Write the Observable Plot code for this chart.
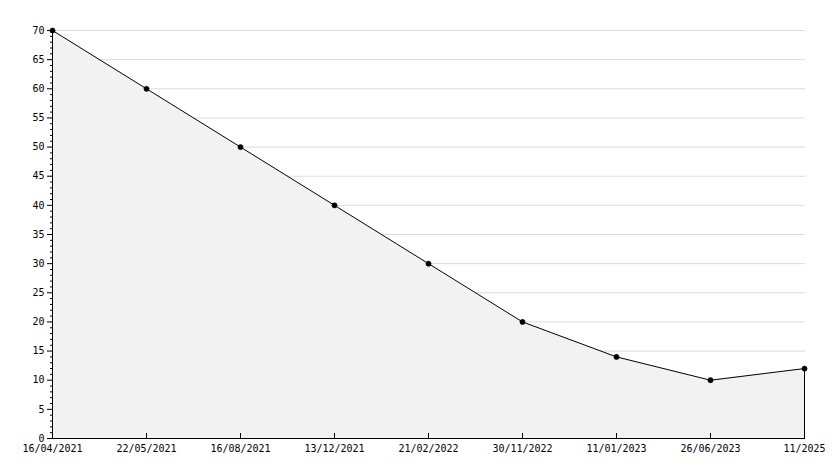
<!DOCTYPE html>
<html>
<head>
<meta charset="utf-8">
<script src="https://cdn.jsdelivr.net/npm/d3@7"></script>
<script src="https://cdn.jsdelivr.net/npm/@observablehq/plot@0.6"></script>
<style>
  html, body { margin: 0; padding: 0; background: #ffffff; }
</style>
</head>
<body>
<div id="chart"></div>
<script>
const dates = ["16/04/2021", "22/05/2021", "16/08/2021", "13/12/2021", "21/02/2022", "30/11/2022", "11/01/2023", "26/06/2023", "11/2025"];
const values = [70, 60, 50, 40, 30, 20, 14, 10, 12];
const yTickLabels = [0, 5, 10, 15, 20, 25, 30, 35, 40, 45, 50, 55, 60, 65, 70];
const yMinorTicks = d3.range(0, 71, 1);
const gridLines = [5, 10, 15, 20, 25, 30, 35, 40, 45, 50, 55, 60, 65, 70];

const data = dates.map((d, i) => ({date: d, value: values[i]}));

const chart = Plot.plot({
  width: 834,
  height: 468,
  marginLeft: 50,
  marginRight: 29,
  marginTop: 30,
  marginBottom: 30,
  style: {fontFamily: "'DejaVu Sans Mono', monospace", fontSize: "10px", color: "#000", background: "#ffffff", overflow: "visible"},
  x: {type: "point", domain: dates, padding: 0, label: null},
  y: {domain: [0, 70], label: null},
  marks: [
    Plot.ruleY(gridLines, {y: d => d, stroke: "#dcdcdc", strokeWidth: 1}),
    Plot.areaY(data, {x: "date", y: "value", fill: "#f2f2f2"}),
    Plot.ruleX(data.slice(-1), {x: "date", y1: 0, y2: "value", stroke: "#000"}),
    Plot.ruleX(dates, {x: d => d, y1: 0, y2: 0, insetTop: -5, stroke: "#000"}),
    Plot.ruleY([0], {stroke: "#000"}),
    Plot.ruleX([dates[0]], {stroke: "#000"}),
    Plot.lineY(data, {x: "date", y: "value", stroke: "#000", strokeWidth: 1}),
    Plot.dot(data, {x: "date", y: "value", r: 2.6, fill: "#000", stroke: "#000", strokeWidth: 0.5}),
    Plot.axisY(yMinorTicks, {tickSize: 3, dx: 3, text: null, label: null, stroke: "#000"}),
    Plot.axisY(yTickLabels, {tickSize: 3, tickPadding: 3, label: null, stroke: "#000"}),
    Plot.axisX({tickSize: 0, tickPadding: 6, label: null})
  ]
});
document.getElementById("chart").appendChild(chart);
</script>
</body>
</html>
